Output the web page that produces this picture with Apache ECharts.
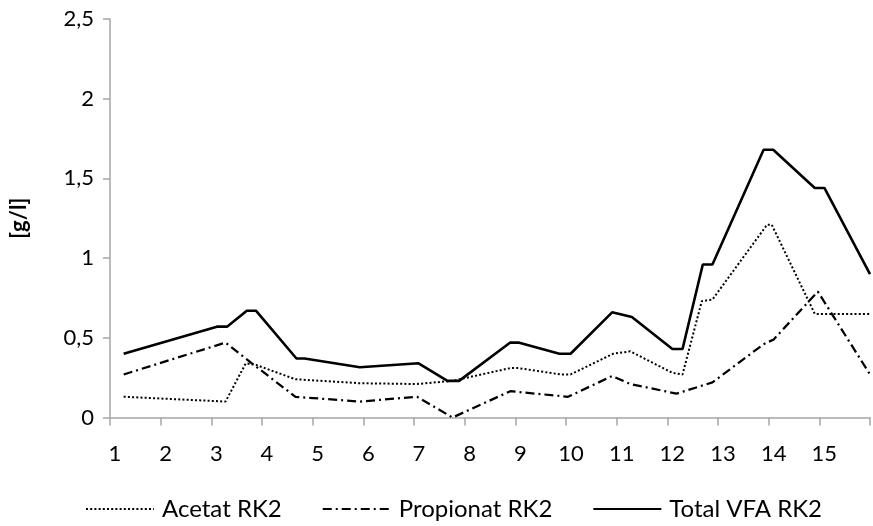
<!DOCTYPE html>
<html>
<head>
<meta charset="utf-8">
<script src="https://cdn.jsdelivr.net/npm/echarts@6/dist/echarts.min.js"></script>
<style>
  html, body { margin: 0; padding: 0; background: #fff; }
  #chart { width: 873px; height: 526px; }
</style>
</head>
<body>
<div id="chart"></div>
<script>
// Sampling positions (x) and concentrations in g/l (y) for each acid
const acetatX = [1.27, 3.28, 3.68, 3.88, 4.66, 5.93, 7.06, 7.76, 8.90, 9.06, 9.90, 10.09, 10.93, 11.27, 12.10, 12.30, 12.68, 12.89, 13.97, 14.06, 14.91, 16.0];
const acetatY = [0.13, 0.10, 0.34, 0.33, 0.24, 0.215, 0.21, 0.23, 0.31, 0.31, 0.27, 0.27, 0.40, 0.415, 0.28, 0.27, 0.73, 0.74, 1.21, 1.21, 0.65, 0.65];

const propionatX = [1.27, 3.28, 3.80, 4.66, 5.93, 7.06, 7.76, 8.90, 9.06, 10.04, 10.91, 11.27, 12.18, 12.89, 13.90, 14.10, 14.97, 16.0];
const propionatY = [0.27, 0.47, 0.34, 0.13, 0.10, 0.13, 0.0, 0.165, 0.16, 0.13, 0.26, 0.21, 0.15, 0.22, 0.46, 0.49, 0.79, 0.27];

const totalX = [1.27, 3.11, 3.31, 3.70, 3.88, 4.68, 4.84, 5.93, 7.09, 7.66, 7.89, 8.90, 9.06, 9.87, 10.09, 10.91, 11.30, 12.10, 12.30, 12.70, 12.89, 13.90, 14.09, 14.91, 15.10, 16.0];
const totalY = [0.40, 0.57, 0.57, 0.67, 0.67, 0.37, 0.37, 0.315, 0.34, 0.23, 0.23, 0.47, 0.47, 0.40, 0.40, 0.66, 0.63, 0.43, 0.43, 0.96, 0.96, 1.68, 1.68, 1.44, 1.44, 0.90];

const seriesNames = ['Acetat RK2', 'Propionat RK2', 'Total VFA RK2'];
const xTickLabels = ['1', '2', '3', '4', '5', '6', '7', '8', '9', '10', '11', '12', '13', '14', '15'];
const yTickLabels = ['0', '0,5', '1', '1,5', '2', '2,5'];
const yTitle = '[g/l]';

const pairs = (xs, ys) => xs.map((x, i) => [x, ys[i]]);
const FONT = 'Lato';
const AXIS_GREY = '#a6a6a6';

const chart = echarts.init(document.getElementById('chart'), null, { renderer: 'canvas' });

// Line-only legend keys: the point symbol is made transparent
const lineSeries = (name, data, lineStyle, z) => ({
  name,
  type: 'line',
  data,
  symbol: 'none',
  lineStyle,
  itemStyle: { color: 'transparent', borderWidth: 0 },
  z
});

chart.setOption({
  animation: false,
  backgroundColor: '#ffffff',
  textStyle: { fontFamily: FONT, color: '#000' },
  grid: { left: 102.5, right: 0.5, top: 19, bottom: 108.5, containLabel: false },
  xAxis: {
    type: 'value',
    min: 1,
    max: 16,
    interval: 1,
    axisLine: { show: true, onZero: false, lineStyle: { color: AXIS_GREY, width: 1.5 } },
    axisTick: { show: true, inside: false, length: 8, lineStyle: { color: AXIS_GREY, width: 1.5 } },
    splitLine: { show: false },
    axisLabel: {
      margin: 25,
      fontFamily: FONT,
      fontSize: 22,
      color: '#000',
      padding: [0, 0, 0, 10],
      formatter: v => {
        const i = Math.round(v) - 1;
        return i >= 0 && i < xTickLabels.length ? xTickLabels[i] : '';
      }
    }
  },
  yAxis: {
    type: 'value',
    min: 0,
    max: 2.5,
    interval: 0.5,
    name: yTitle,
    nameLocation: 'middle',
    nameGap: 80,
    nameTextStyle: { fontFamily: FONT, fontSize: 22, fontWeight: 'bold', color: '#000' },
    axisLine: { show: true, lineStyle: { color: AXIS_GREY, width: 1.5 } },
    axisTick: { show: true, inside: false, length: 7, lineStyle: { color: AXIS_GREY, width: 1.5 } },
    splitLine: { show: false },
    axisLabel: {
      margin: 16,
      fontFamily: FONT,
      fontSize: 22,
      color: '#000',
      formatter: v => yTickLabels[Math.round(v / 0.5)]
    }
  },
  legend: {
    left: 80,
    bottom: 0,
    itemWidth: 68,
    itemHeight: 12,
    itemGap: 40,
    textStyle: { fontFamily: FONT, fontSize: 24, color: '#000', padding: [0, 0, 0, 3] },
    data: seriesNames
  },
  series: [
    lineSeries(seriesNames[0], pairs(acetatX, acetatY), { color: '#000', width: 2, type: [2, 2.2] }, 3),
    lineSeries(seriesNames[1], pairs(propionatX, propionatY), { color: '#000', width: 2.25, type: [9, 4, 2, 4] }, 3),
    lineSeries(seriesNames[2], pairs(totalX, totalY), { color: '#000', width: 2.6, type: 'solid' }, 4)
  ]
});
</script>
</body>
</html>
